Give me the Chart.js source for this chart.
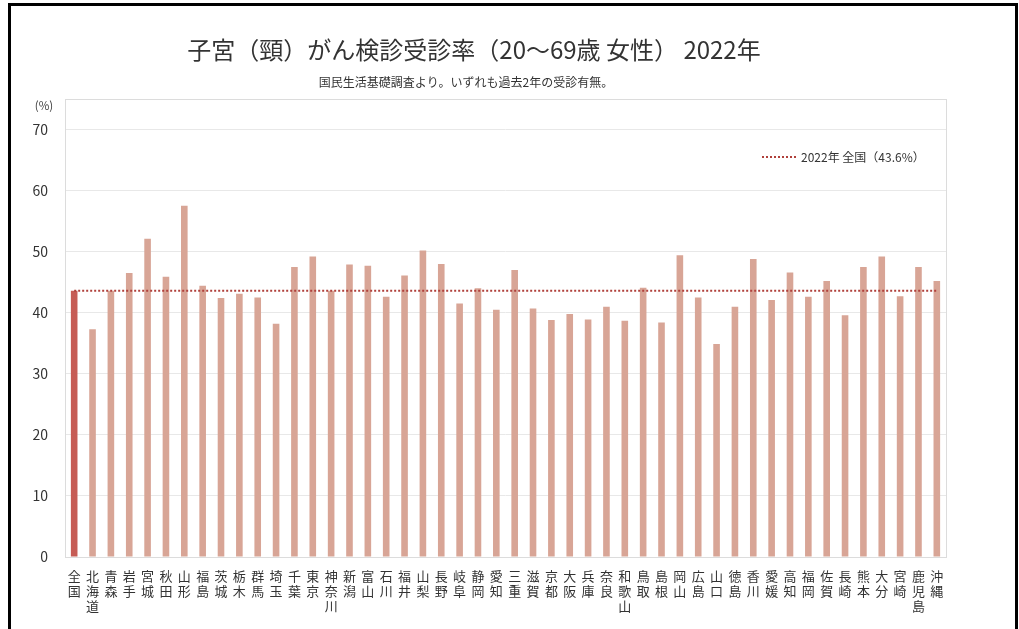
<!DOCTYPE html>
<html lang="ja">
<head>
<meta charset="utf-8">
<title>子宮（頸）がん検診受診率 2022年</title>
<script src="https://cdn.jsdelivr.net/npm/chart.js@4.4.1/dist/chart.umd.min.js"></script>
<style>
  html, body { margin: 0; padding: 0; background: #fff; overflow: hidden; }
  #wrap { position: relative; width: 1019px; height: 629px; }
  #chart { position: absolute; left: 0; top: 0; }
  #frame {
    position: absolute; left: 8px; top: 3px; width: 1004px; height: 700px;
    border: 3px solid #000; pointer-events: none;
  }
</style>
</head>
<body>
<div id="wrap">
  <canvas id="chart" width="1019" height="629"></canvas>
  <div id="frame"></div>
</div>
<script>
"use strict";

// --- data ---
var categories = [
  "全国", "北海道", "青森", "岩手", "宮城", "秋田", "山形", "福島", "茨城", "栃木",
  "群馬", "埼玉", "千葉", "東京", "神奈川", "新潟", "富山", "石川", "福井", "山梨",
  "長野", "岐阜", "静岡", "愛知", "三重", "滋賀", "京都", "大阪", "兵庫", "奈良",
  "和歌山", "鳥取", "島根", "岡山", "広島", "山口", "徳島", "香川", "愛媛", "高知",
  "福岡", "佐賀", "長崎", "熊本", "大分", "宮崎", "鹿児島", "沖縄"
];
var rates = [
  43.6, 37.3, 43.6, 46.5, 52.1, 45.9, 57.5, 44.4, 42.4, 43.1,
  42.5, 38.2, 47.5, 49.2, 43.6, 47.9, 47.7, 42.6, 46.1, 50.2,
  48.0, 41.5, 44.0, 40.5, 47.0, 40.7, 38.8, 39.8, 38.9, 41.0,
  38.7, 44.1, 38.4, 49.4, 42.5, 34.9, 41.0, 48.8, 42.1, 46.6,
  42.6, 45.2, 39.6, 47.5, 49.2, 42.7, 47.5, 45.2
];
var nationalAvg = 43.6;
var avgLabel = "2022年 全国（43.6%）";
var yTicks = [0, 10, 20, 30, 40, 50, 60, 70];

var titleText = "子宮（頸）がん検診受診率（20～69歳 女性） 2022年";
var subText = "国民生活基礎調査より。いずれも過去2年の受診有無。";

var FONT = '"Noto Sans CJK JP", "Noto Sans", sans-serif';
var C_NATIONAL = "#c65c55";
var C_PREF = "#d8a596";
var C_AVG = "#b0403b";

// vertical labels: one character per line
var xLabels = categories.map(function(c) { return c.split(""); });
var barColors = categories.map(function(c, i) { return i === 0 ? C_NATIONAL : C_PREF; });
var avgLine = categories.map(function() { return nationalAvg; });

// titles, (%) unit, frame of plot and legend
var decor = {
  id: "decor",
  beforeDatasetsDraw: function(chart) {
    var ctx = chart.ctx, a = chart.chartArea;
    ctx.save();
    ctx.strokeStyle = "#dcdcdc";
    ctx.lineWidth = 1;
    ctx.strokeRect(Math.round(a.left) + 0.5, Math.round(a.top) + 0.5,
      Math.round(a.right - a.left), Math.round(a.bottom - a.top));
    ctx.restore();
  },
  afterDraw: function(chart) {
    var ctx = chart.ctx;
    ctx.save();
    ctx.fillStyle = "#333";
    ctx.textAlign = "center";
    ctx.textBaseline = "middle";
    ctx.font = "24px " + FONT;
    ctx.fillText(titleText, 474, 50);
    ctx.font = "12px " + FONT;
    ctx.fillText(subText, 466, 82);

    ctx.font = "11.5px " + FONT;
    ctx.fillStyle = "#444";
    ctx.fillText("(%)", 44, 106);

    // legend for the average line
    ctx.strokeStyle = C_AVG;
    ctx.lineWidth = 2;
    ctx.setLineDash([2, 2]);
    ctx.beginPath();
    ctx.moveTo(762, 157);
    ctx.lineTo(796, 157);
    ctx.stroke();
    ctx.setLineDash([]);
    ctx.textAlign = "left";
    ctx.fillStyle = "#333";
    ctx.font = "12px " + FONT;
    ctx.fillText(avgLabel, 801, 157);
    ctx.restore();
  }
};

new Chart(document.getElementById("chart").getContext("2d"), {
  type: "bar",
  data: {
    labels: xLabels,
    datasets: [
      {
        type: "line",
        label: avgLabel,
        data: avgLine,
        borderColor: C_AVG,
        borderWidth: 2,
        borderDash: [2, 2],
        pointRadius: 0,
        fill: false,
        order: 0
      },
      {
        label: "受診率",
        data: rates,
        backgroundColor: barColors,
        borderWidth: 0,
        categoryPercentage: 1,
        barPercentage: 0.36,
        order: 1
      }
    ]
  },
  options: {
    responsive: false,
    animation: false,
    devicePixelRatio: 1,
    layout: { padding: { top: 99, right: 73, left: 0, bottom: 0 } },
    plugins: {
      legend: { display: false },
      title: { display: false },
      tooltip: { enabled: false }
    },
    scales: {
      x: {
        grid: { display: false },
        border: { color: "#cfcfcf" },
        ticks: {
          autoSkip: false, maxRotation: 0, minRotation: 0, padding: 3,
          color: "#333",
          font: { family: FONT, size: 13, lineHeight: 1.17 }
        },
        afterFit: function(s) { s.height = 72; }
      },
      y: {
        min: 0, max: 75,
        afterBuildTicks: function(s) {
          s.ticks = yTicks.map(function(v) { return { value: v }; });
        },
        grid: { color: "#e8e8e8", drawTicks: false },
        border: { display: false },
        ticks: {
          padding: 17,
          color: "#333",
          font: { family: FONT, size: 14 }
        },
        afterFit: function(s) { s.width = 65; }
      }
    }
  },
  plugins: [decor]
});
</script>
</body>
</html>
